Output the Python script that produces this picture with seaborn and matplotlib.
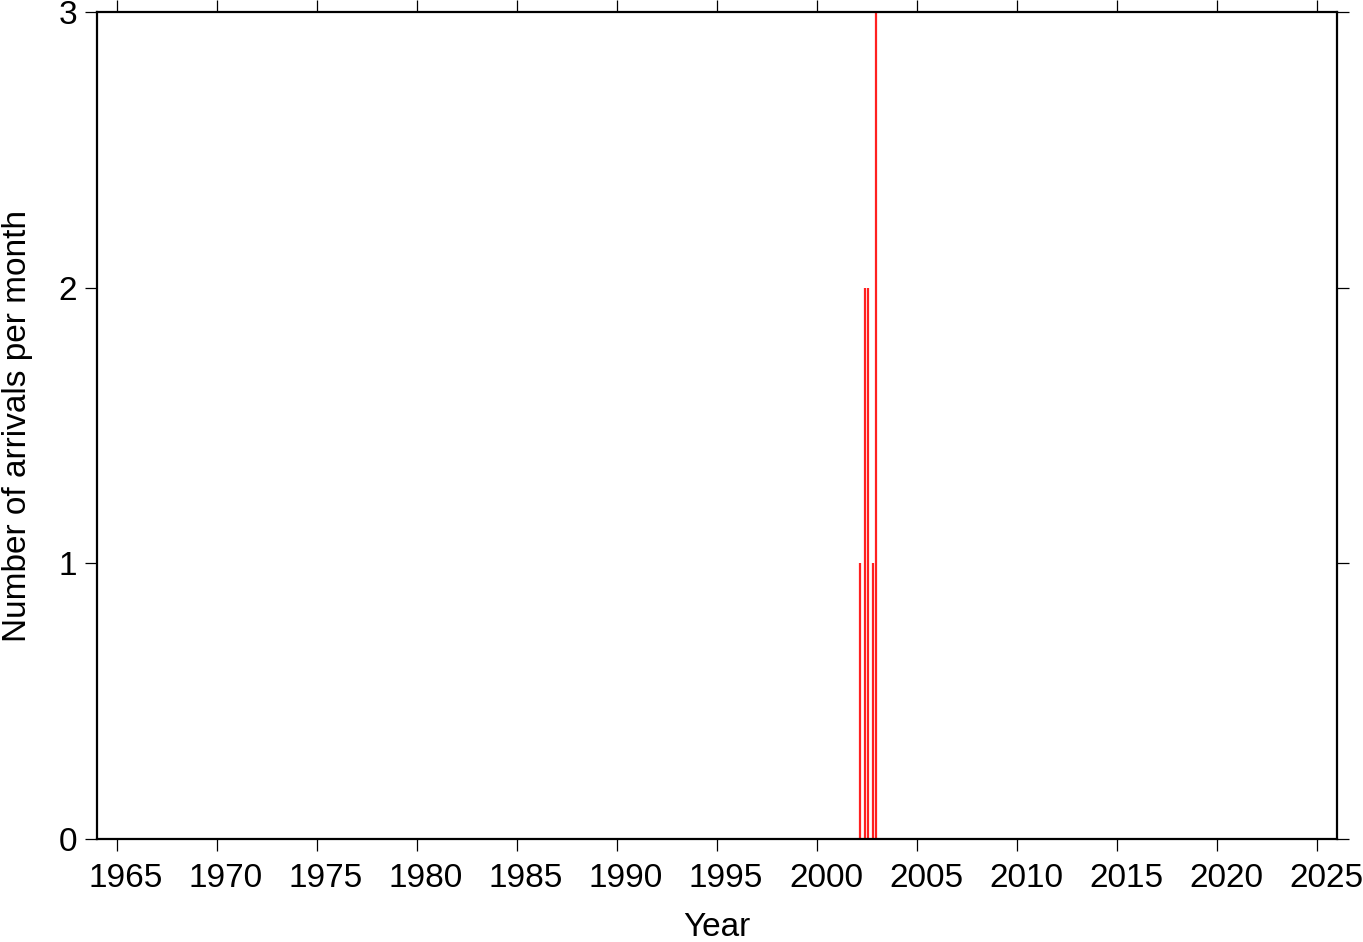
import numpy as np
import pandas as pd
import matplotlib
matplotlib.use("Agg")
import matplotlib.pyplot as plt
import matplotlib.transforms as mtransforms
import seaborn as sns

# monthly arrival counts (decimal year of month, count)
years = [2002.15, 2002.40, 2002.55, 2002.80, 2002.95]
counts = [1, 2, 2, 1, 3]
xticks = list(range(1965, 2030, 5))
yticks = [0, 1, 2, 3]

df = pd.DataFrame({'Year': years, 'Count': counts})

sns.set_style("ticks", {'text.color': 'black', 'axes.labelcolor': 'black',
                        'xtick.color': 'black', 'ytick.color': 'black'})
plt.rcParams['font.family'] = ['Liberation Sans', 'DejaVu Sans']

fig = plt.figure(figsize=(13.63, 9.42), dpi=100)
ax = fig.add_axes([0.0712, 0.1093, 0.9098, 0.878])

ax.vlines(df['Year'], 0, df['Count'], color='#ff2020', lw=1.6)

ax.set_xlim(1964, 2026)
ax.set_ylim(0, 3)
ax.set_xticks(xticks)
ax.set_yticks(yticks)
ax.tick_params(axis='both', which='both', direction='out', length=8.5, width=0.9,
               labelsize=24, top=True, right=True, color='black', labelcolor='black')
ax.tick_params(axis='x', pad=9)
ax.tick_params(axis='y', pad=6)
for s in ax.spines.values():
    s.set_linewidth(1.6)
    s.set_color('black')

# labels sit slightly right of their ticks in the original
offset = mtransforms.ScaledTranslation(9 / 100, 0, fig.dpi_scale_trans)
for lbl in ax.get_xticklabels():
    lbl.set_transform(lbl.get_transform() + offset)

ax.set_xlabel("Year", fontsize=24, labelpad=13, color='black')
ax.set_ylabel("Number of arrivals per month", fontsize=24, labelpad=18, color='black')

fig.savefig("out.png", dpi=100)
